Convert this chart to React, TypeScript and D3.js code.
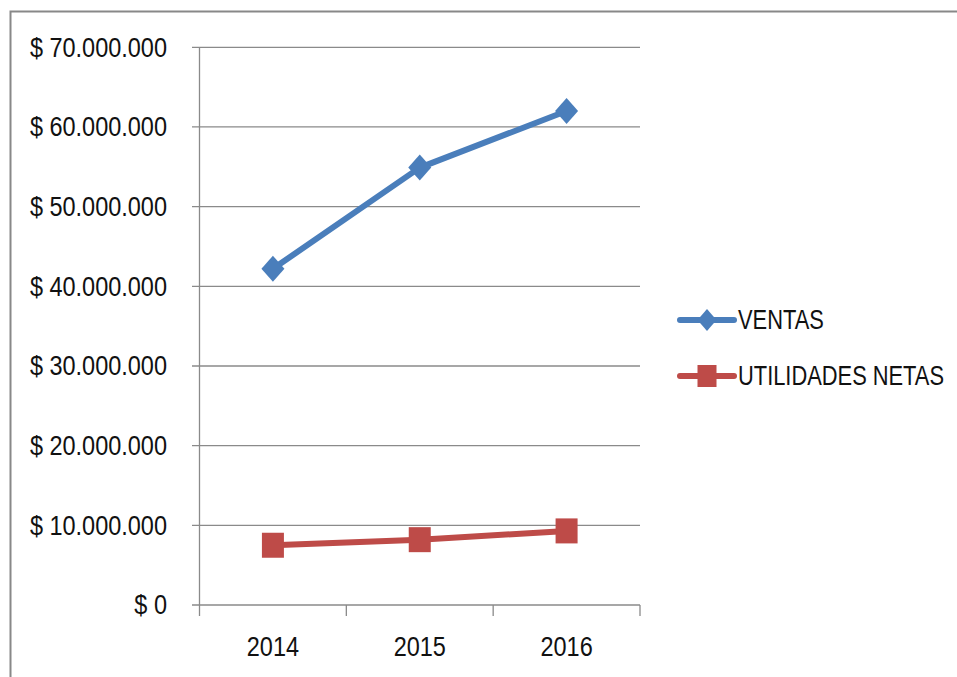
import React from "react";
import * as d3 from "d3";

const years = ["2014", "2015", "2016"];
const ventas = [42200000, 54900000, 62000000];
const utilidades = [7500000, 8200000, 9300000];
const yTicks = [0, 10000000, 20000000, 30000000, 40000000, 50000000, 60000000, 70000000];
const seriesNames = ["VENTAS", "UTILIDADES NETAS"];

const W = 957, H = 677;
const FONT = "'Liberation Sans', Arial, sans-serif";
const BLUE = "#4A7EBB";
const RED = "#BE4B48";
const GRID = "#8a8a8a";

const fmt = (v: number) =>
  "$ " + (v === 0 ? "0" : d3.format(",")(v).replace(/,/g, "."));

function NText({ x, y, anchor, sx = 0.87, children }: { x: number; y: number; anchor: string; sx?: number; children: React.ReactNode }) {
  return (
    <g transform={`translate(${x},${y}) scale(${sx},1)`}>
      <text x={0} y={0} dy="0.35em" textAnchor={anchor} fontFamily={FONT} fontSize={27} fill="#111">
        {children}
      </text>
    </g>
  );
}

export default function App() {
  const x = d3.scaleBand<string>().domain(years).range([199.5, 640]);
  const y = d3.scaleLinear().domain([0, 70000000]).range([605, 47.3]);
  const cx = (d: string) => (x(d) as number) + x.bandwidth() / 2;
  const line = d3
    .line<number>()
    .x((_, i) => cx(years[i]))
    .y((v) => y(v));

  const boundaries = [...years.map((d) => x(d) as number), 640];

  return (
    <svg
      width={W}
      height={H}
      style={{ position: "absolute", left: 0, top: 0, background: "#fff" }}
    >
      <rect x={0} y={0} width={W} height={H} fill="#fff" />
      <rect x={10.5} y={11.5} width={W + 20} height={H + 20} fill="none" stroke="#888" strokeWidth={2} />
      {yTicks.map((t) => (
        <line key={t} x1={192} x2={640} y1={y(t)} y2={y(t)} stroke={GRID} strokeWidth={1.3} />
      ))}
      <line x1={199.5} x2={199.5} y1={y(70000000)} y2={605} stroke={GRID} strokeWidth={1.3} />
      {boundaries.map((b, i) => (
        <line key={i} x1={b} x2={b} y1={605} y2={616} stroke={GRID} strokeWidth={1.3} />
      ))}
      {yTicks.map((t) => (
        <NText key={t} x={167} y={y(t)} anchor="end">{fmt(t)}</NText>
      ))}
      {years.map((d) => (
        <NText key={d} x={cx(d)} y={647} anchor="middle">{d}</NText>
      ))}
      <path d={line(ventas) as string} fill="none" stroke={BLUE} strokeWidth={6} strokeLinejoin="round" strokeLinecap="round" />
      {ventas.map((v, i) => (
        <path
          key={i}
          d="M0,-13 L11.5,0 L0,13 L-11.5,0 Z"
          transform={`translate(${cx(years[i])},${y(v)})`}
          fill={BLUE}
        />
      ))}
      <path d={line(utilidades) as string} fill="none" stroke={RED} strokeWidth={6} strokeLinejoin="round" strokeLinecap="round" />
      {utilidades.map((v, i) => (
        <rect key={i} x={cx(years[i]) - 11} y={y(v) - 12.5} width={22} height={25} fill={RED} />
      ))}
      <g>
        <line x1={680} x2={734} y1={320} y2={320} stroke={BLUE} strokeWidth={6} strokeLinecap="round" />
        <path d="M0,-11 L9.5,0 L0,11 L-9.5,0 Z" transform="translate(707,320)" fill={BLUE} />
        <NText x={738} y={320} anchor="start" sx={0.81}>{seriesNames[0]}</NText>
        <line x1={680} x2={734} y1={376} y2={376} stroke={RED} strokeWidth={6} strokeLinecap="round" />
        <rect x={697.5} y={365} width={19} height={22} fill={RED} />
        <NText x={738} y={376} anchor="start" sx={0.81}>{seriesNames[1]}</NText>
      </g>
    </svg>
  );
}
